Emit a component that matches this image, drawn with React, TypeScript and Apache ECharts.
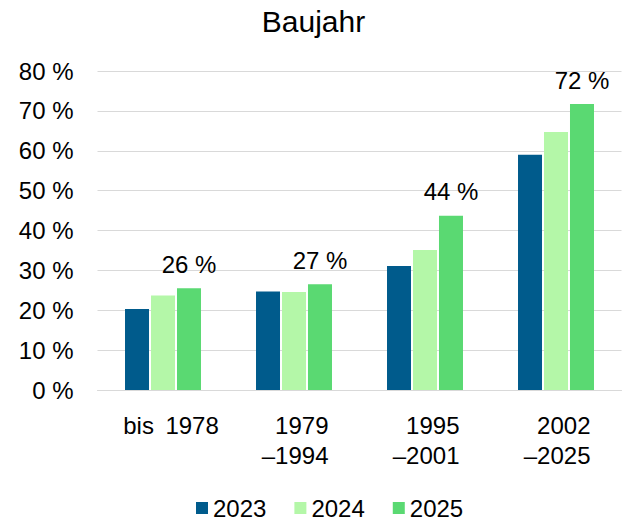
import React, { useEffect, useRef } from "react";
import * as echarts from "echarts";

const categories = ["bis 1978", "1979\n–1994", "1995\n–2001", "2002\n–2025"];
const seriesNames = ["2023", "2024", "2025"];
const values2023 = [20.3, 24.7, 31.1, 59.0];
const values2024 = [23.7, 24.6, 35.1, 64.7];
const values2025 = [25.5, 26.5, 43.7, 71.7];
const colors = ["#005b8c", "#b4f7a8", "#5ad972"];
const yTicks = { min: 0, max: 80, interval: 10 };

const FONT = "'Liberation Sans', Arial, sans-serif";

export default function App() {
  const ref = useRef<HTMLDivElement>(null);
  useEffect(() => {
    if (!ref.current) return;
    const chart = echarts.init(ref.current, null, { renderer: "svg" });
    const data = [values2023, values2024, values2025];
    chart.setOption({
      animation: false,
      textStyle: { fontFamily: FONT, color: "#000" },
      title: {
        text: "Baujahr",
        left: "center",
        top: 1,
        textStyle: { fontFamily: FONT, fontSize: 30, fontWeight: "normal", color: "#000" },
      },
      grid: { left: 97.5, right: 5.5, top: 71, bottom: 132 },
      legend: {
        data: seriesNames,
        left: 191,
        top: 491,
        itemWidth: 12,
        itemHeight: 12,
        itemGap: 28,
        icon: "rect",
        textStyle: { fontFamily: FONT, fontSize: 24, color: "#000" },
      },
      xAxis: {
        type: "category",
        data: categories,
        axisTick: { show: false },
        axisLine: { lineStyle: { color: "#d9d9d9", width: 1 } },
        axisLabel: {
          interval: 0,
          margin: 20,
          fontFamily: FONT,
          fontSize: 24,
          color: "#000",
          formatter: (v: string) => {
            if (v.indexOf("\n") < 0) return "{b|" + v.replace(" ", "\u2009 ") + "}";
            return v
              .split("\n")
              .map((l) => "{a|" + l + "}")
              .join("\n");
          },
          rich: {
            a: { fontFamily: FONT, fontSize: 24, color: "#000", width: 69, align: "right", lineHeight: 30 },
            b: { fontFamily: FONT, fontSize: 24, color: "#000", lineHeight: 30, padding: [0, 0, 0, 16] },
          },
        },
      },
      yAxis: {
        type: "value",
        min: yTicks.min,
        max: yTicks.max,
        interval: yTicks.interval,
        axisLabel: {
          formatter: "{value} %",
          margin: 24,
          fontFamily: FONT,
          fontSize: 24,
          color: "#000",
        },
        axisLine: { show: false },
        axisTick: { show: false },
        splitLine: { lineStyle: { color: "#d9d9d9", width: 1 } },
      },
      series: seriesNames.map((name, i) => ({
        name,
        type: "bar",
        data: data[i],
        barWidth: 24,
        barGap: "8.3%",
        itemStyle: { color: colors[i] },
        label:
          i === 2
            ? {
                show: true,
                position: "top",
                distance: 12,
                fontFamily: FONT,
                fontSize: 24,
                color: "#000",
                formatter: (p: any) => Math.round(p.value) + " %",
              }
            : { show: false },
      })),
    });
    return () => chart.dispose();
  }, []);
  return (
    <div
      ref={ref}
      style={{ position: "fixed", left: 0, top: 0, width: 627, height: 522, background: "#fff" }}
    />
  );
}
